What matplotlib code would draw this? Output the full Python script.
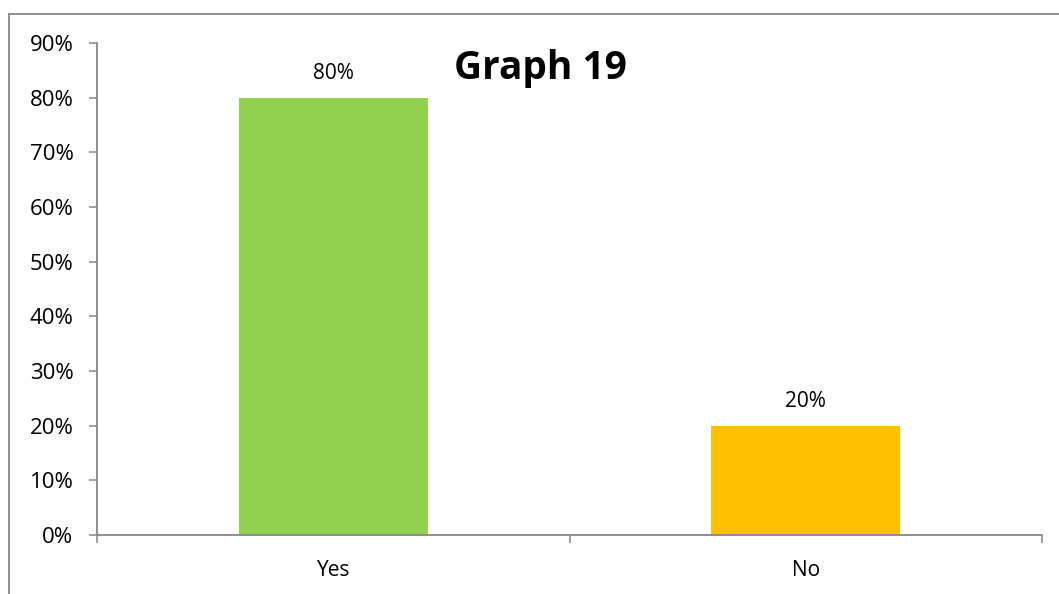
import matplotlib.pyplot as plt
from matplotlib.lines import Line2D

categories = ['Yes', 'No']
values = [80, 20]
colors = ['#92D050', '#FFC000']

plt.rcParams['font.family'] = ['Open Sans', 'DejaVu Sans']

fig = plt.figure(figsize=(10.59, 5.94), dpi=100)
ax = fig.add_axes([0.0916, 0.0993, 0.8924, 0.8283])

x = range(len(categories))
ax.bar(x, values, width=0.4, color=colors, zorder=2)
for xi, v in zip(x, values):
    ax.annotate(f'{v}%', (xi, v), xytext=(0, 10), textcoords='offset points',
                ha='center', va='bottom', fontsize=15)

ax.set_xlim(-0.5, 1.5)
ax.set_ylim(0, 90)
ax.set_yticks(range(0, 91, 10))
ax.set_yticklabels([f'{t}%' for t in range(0, 91, 10)], fontsize=16)
ax.set_xticks(list(x))
ax.set_xticklabels(categories, fontsize=15)
ax.set_xticks([-0.5, 0.5, 1.5], minor=True)

ax.tick_params(axis='x', which='major', length=0, pad=18)
ax.tick_params(axis='x', which='minor', length=6, color='#868686', width=1.1, direction='out')
ax.tick_params(axis='y', length=6, color='#868686', width=1.1, direction='out', pad=11)

for side in ['top', 'right']:
    ax.spines[side].set_visible(False)
for side in ['left', 'bottom']:
    ax.spines[side].set_color('#868686')
    ax.spines[side].set_linewidth(1.3)

fig.text(0.51, 0.885, 'Graph 19', ha='center', va='center', fontsize=28, fontweight='bold')

# chart area border (left and top edges)
fig.add_artist(Line2D([9 / 1059, 9 / 1059], [0, 1 - 14 / 594], color='#888888', lw=1.3))
fig.add_artist(Line2D([9 / 1059, 1], [1 - 14 / 594, 1 - 14 / 594], color='#888888', lw=1.3))

fig.savefig('out.png', dpi=100)
